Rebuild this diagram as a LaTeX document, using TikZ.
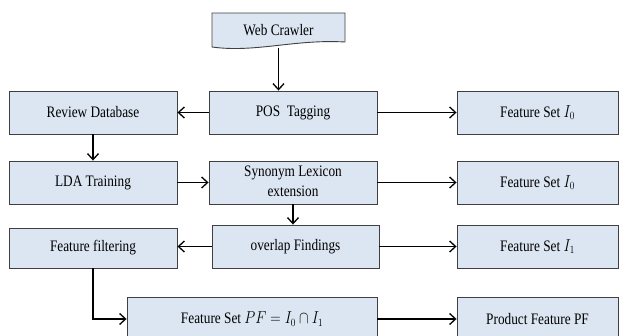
\documentclass[tikz,border=0pt]{standalone}
\usepackage{fontspec}
\usepackage{graphicx}
\setmainfont{Liberation Serif}
\usetikzlibrary{arrows.meta}
\definecolor{boxfill}{HTML}{DCE6F2}
\definecolor{boxline}{HTML}{404040}
\newcommand\nar[1]{\scalebox{0.83}[1]{#1}}
\tikzset{
  box/.style={draw=boxline, fill=boxfill, line width=0.9pt, inner sep=0pt,
    font=\fontsize{16}{20}\selectfont, align=center},
  link/.style={draw=black, line width=1.3pt,
    -{Straight Barb[length=6pt,width=11pt]}}
}
\begin{document}
\begin{tikzpicture}[x=1pt,y=-1pt]
\useasboundingbox (0,0) rectangle (619,335);
\clip (0,0) rectangle (619,335);

% document-shaped source box
\path[draw=boxline, fill=boxfill, line width=0.9pt]
  (212,13) -- (345,13) -- (345,42)
  .. controls (295,39) and (255,53) .. (212,47) -- cycle;
\node[font=\fontsize{16}{20}\selectfont, minimum width=133, minimum height=35,
  inner sep=0pt] (web) at (278.5,30) {\nar{Web Crawler}};

% first row
\node[box, minimum width=168, minimum height=43] (rdb) at (93,112.5) {\nar{Review Database}};
\node[box, minimum width=168, minimum height=43] (pos) at (293,112.5) {\nar{POS~~Tagging}};
\node[box, minimum width=161, minimum height=43] (fs0a) at (537.5,112.5) {\nar{Feature Set $I_0$}};

% second row
\node[box, minimum width=168, minimum height=43] (lda) at (93,182.5) {\nar{LDA Training}};
\node[box, minimum width=168, minimum height=43] (syn) at (293,182.5)
  {\nar{\begin{tabular}{@{}c@{}}Synonym Lexicon\\extension\end{tabular}}};
\node[box, minimum width=161, minimum height=43] (fs0b) at (537.5,182.5) {\nar{Feature Set $I_0$}};

% third row
\node[box, minimum width=168, minimum height=40] (ff) at (93,248) {\nar{Feature filtering}};
\node[box, minimum width=167, minimum height=43] (ovl) at (295.5,246.5) {\nar{overlap Findings}};
\node[box, minimum width=161, minimum height=43] (fs1) at (537.5,246.5) {\nar{Feature Set $I_1$}};

% fourth row
\node[box, minimum width=250, minimum height=44] (pf) at (252,319) {\nar{Feature Set $PF = I_0 \cap I_1$}};
\node[box, minimum width=161, minimum height=44] (prod) at (537.5,319) {\nar{Product Feature PF}};

% connectors
\draw[link] (web.south) -- (web.south |- pos.north);
\draw[link] (pos.west) -- (rdb.east);
\draw[link] (pos.east) -- (fs0a.west);
\draw[link] (rdb.south) -- (lda.north);
\draw[link] (lda.east) -- (syn.west);
\draw[link] (syn.east) -- (fs0b.west);
\draw[link] (syn.south) -- (syn.south |- ovl.north);
\draw[link] (ovl.west) -- (ovl.west -| ff.east);
\draw[link] (ovl.east) -- (fs1.west);
\draw[link] (ff.south) |- (pf.west);
\draw[link] (pf.east) -- (prod.west);
\end{tikzpicture}
\end{document}
